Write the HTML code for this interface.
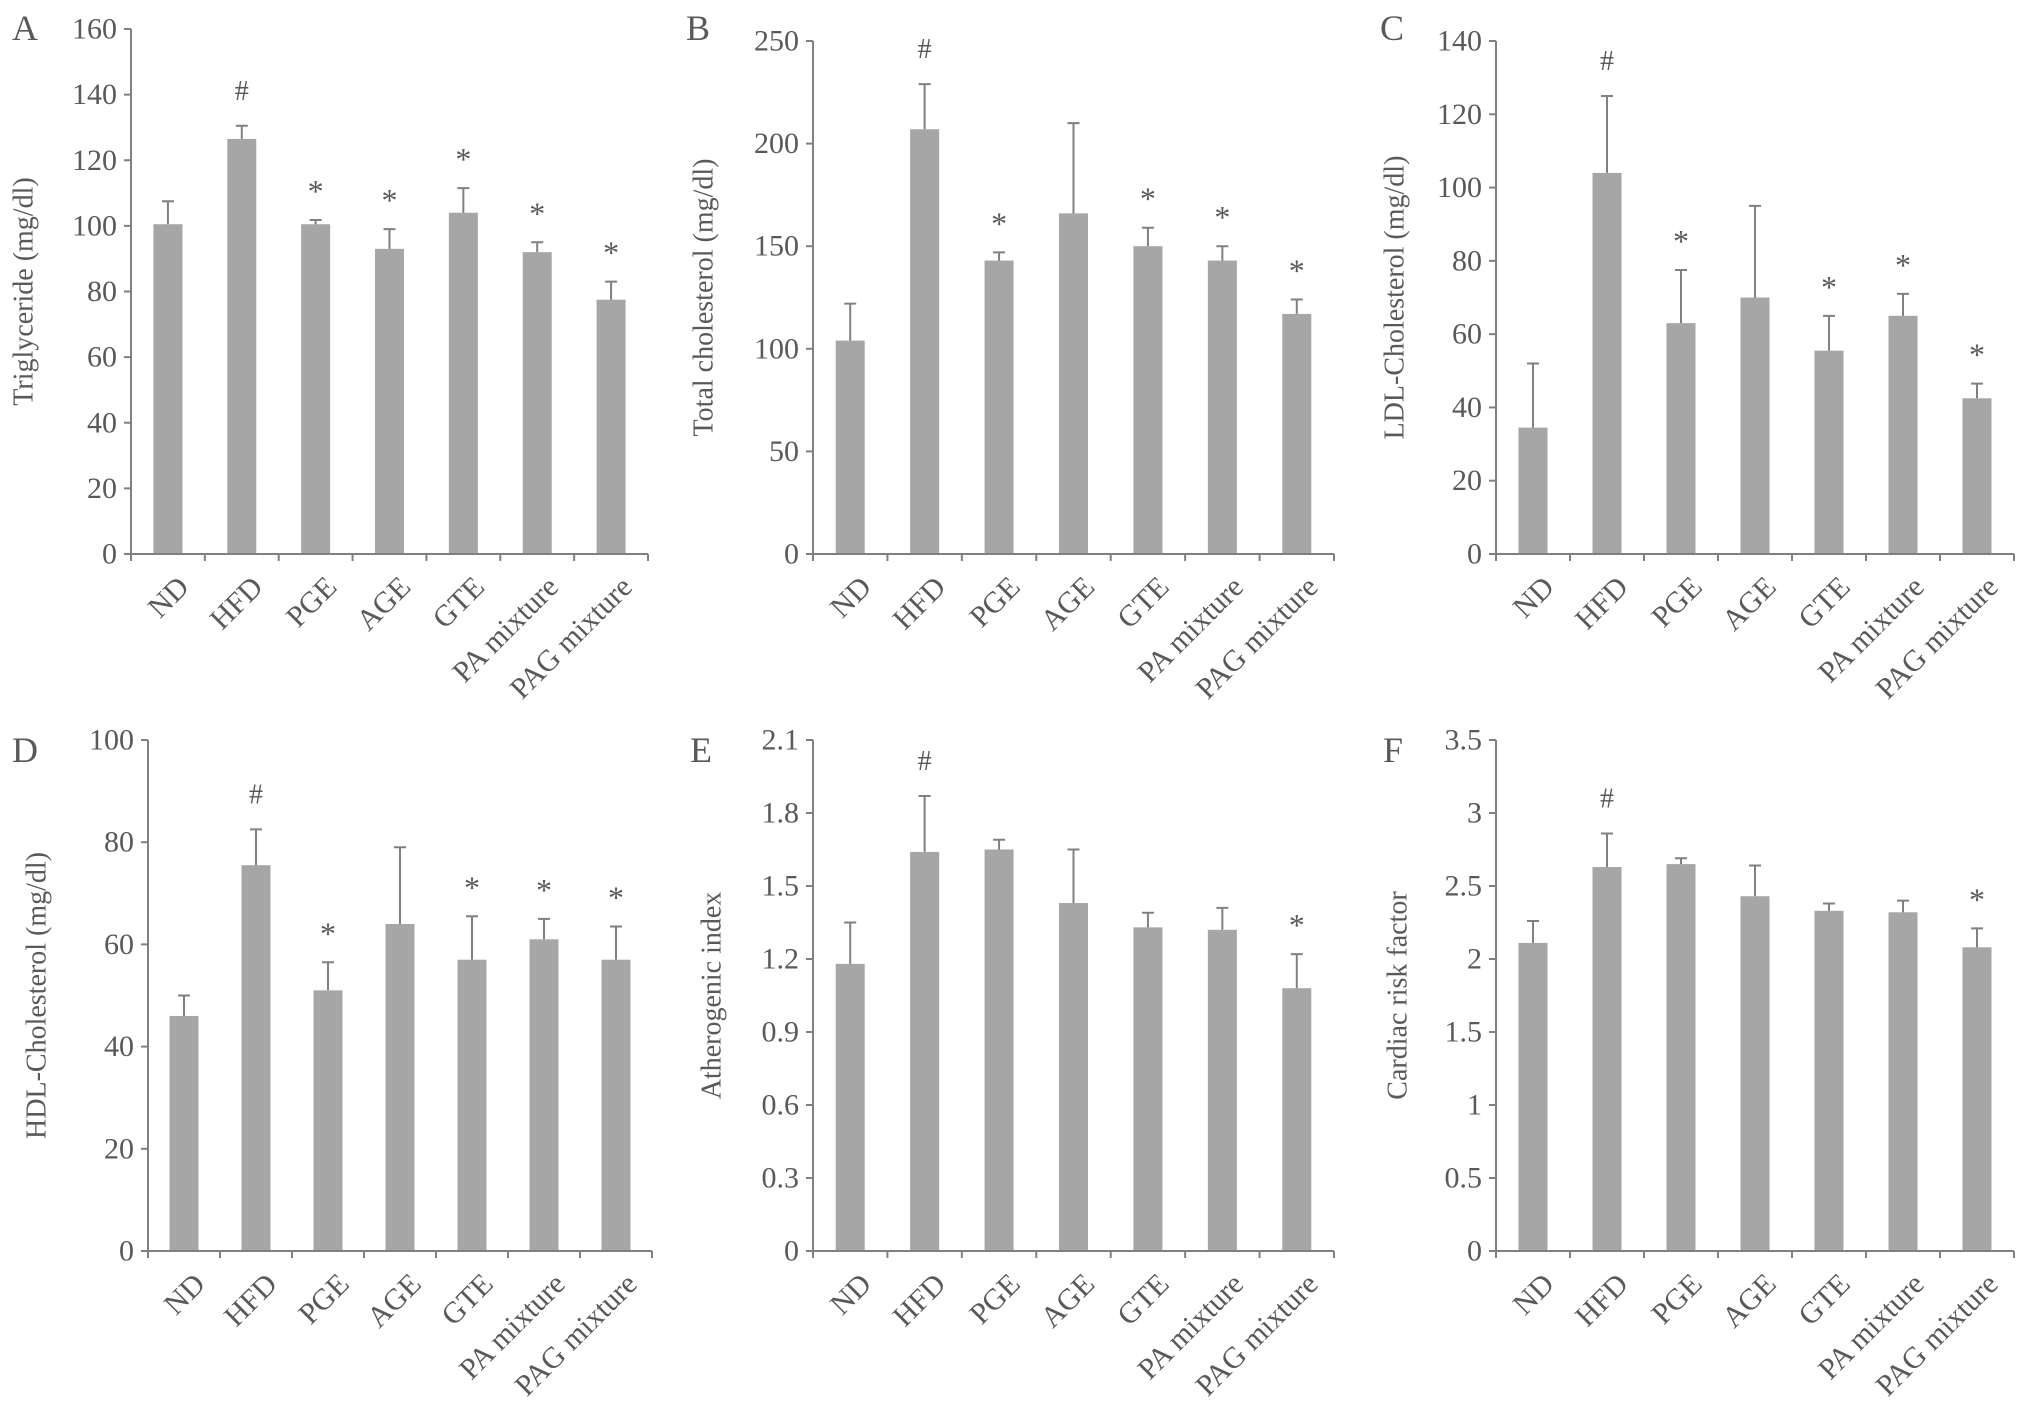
<!DOCTYPE html>
<html><head><meta charset="utf-8">
<style>
html,body{margin:0;padding:0;background:#fff;}
svg text{font-family:"Liberation Serif",serif;fill:#595959;}
</style></head>
<body>
<svg id="fig" width="2031" height="1411" viewBox="0 0 2031 1411" xmlns="http://www.w3.org/2000/svg"></svg>
<script>
const categories = ["ND","HFD","PGE","AGE","GTE","PA mixture","PAG mixture"];
const valsA = [100.5,126.5,100.5,93,104,92,77.5];
const errA  = [7,4,1.3,6,7.5,3,5.5];
const markA = ["","#","*","*","*","*","*"];
const valsB = [104,207,143,166,150,143,117];
const errB  = [18,22,4,44,9,7,7];
const markB = ["","#","*","","*","*","*"];
const valsC = [34.5,104,63,70,55.5,65,42.5];
const errC  = [17.5,21,14.5,25,9.5,6,4];
const markC = ["","#","*","","*","*","*"];
const valsD = [46,75.5,51,64,57,61,57];
const errD  = [4,7,5.5,15,8.5,4,6.5];
const markD = ["","#","*","","*","*","*"];
const valsE = [1.18,1.64,1.65,1.43,1.33,1.32,1.08];
const errE  = [0.17,0.23,0.04,0.22,0.06,0.09,0.14];
const markE = ["","#","","","","","*"];
const valsF = [2.11,2.63,2.65,2.43,2.33,2.32,2.08];
const errF  = [0.15,0.23,0.04,0.21,0.05,0.08,0.13];
const markF = ["","#","","","","","*"];
const ticksA = ["0","20","40","60","80","100","120","140","160"];
const ticksB = ["0","50","100","150","200","250"];
const ticksC = ["0","20","40","60","80","100","120","140"];
const ticksD = ["0","20","40","60","80","100"];
const ticksE = ["0","0.3","0.6","0.9","1.2","1.5","1.8","2.1"];
const ticksF = ["0","0.5","1","1.5","2","2.5","3","3.5"];

const NS="http://www.w3.org/2000/svg";
const svg=document.getElementById('fig');
function mk(tag,attrs,parent){const e=document.createElementNS(NS,tag);for(const k in attrs)e.setAttribute(k,attrs[k]);(parent||svg).appendChild(e);return e;}

const panels=[
 {id:"a",letter:"A",x0:131,x1:648,top:29,bot:554,ticks:ticksA,vals:valsA,err:errA,mark:markA,title:"Triglyceride (mg/dl)",tx:24,lx:12,ly:40},
 {id:"b",letter:"B",x0:813,x1:1334,top:41,bot:554,ticks:ticksB,vals:valsB,err:errB,mark:markB,title:"Total cholesterol (mg/dl)",tx:704,lx:686,ly:40},
 {id:"c",letter:"C",x0:1496,x1:2014,top:41,bot:554,ticks:ticksC,vals:valsC,err:errC,mark:markC,title:"LDL-Cholesterol (mg/dl)",tx:1395,lx:1380,ly:40},
 {id:"d",letter:"D",x0:148,x1:652,top:740,bot:1251,ticks:ticksD,vals:valsD,err:errD,mark:markD,title:"HDL-Cholesterol (mg/dl)",tx:37,lx:12,ly:762},
 {id:"e",letter:"E",x0:813,x1:1334,top:740,bot:1251,ticks:ticksE,vals:valsE,err:errE,mark:markE,title:"Atherogenic index",tx:712,lx:690,ly:762},
 {id:"f",letter:"F",x0:1496,x1:2014,top:740,bot:1251,ticks:ticksF,vals:valsF,err:errF,mark:markF,title:"Cardiac risk factor",tx:1398,lx:1383,ly:762}
];
const col="#808080";
panels.forEach(p=>{
  const g=mk('g',{});
  
  
  const tmax=parseFloat(p.ticks[p.ticks.length-1]);
  const yS=v=>p.bot-(v/tmax)*(p.bot-p.top);
  const n=categories.length, cw=(p.x1-p.x0)/n;
  const xC=i=>p.x0+cw*(i+0.5);
  const lt=mk('text',{x:p.lx,y:p.ly,'font-size':36},g);lt.textContent=p.letter;
  
  
  const yt=mk('text',{x:p.tx,y:(p.top+p.bot)/2,'font-size':28,'text-anchor':'middle','dominant-baseline':'central',transform:`rotate(-90 ${p.tx} ${(p.top+p.bot)/2})`},g);
  yt.textContent=p.title;
  
  
  p.vals.forEach((v,i)=>{
    const bw=29, y=yS(v);
    const r=mk('rect',{x:xC(i)-bw/2,y:y,width:bw,height:p.bot-y,fill:'#a6a6a6'},g);
    
    
    const yt2=yS(v+p.err[i]);
    const eb=mk('path',{d:`M${xC(i)} ${y}V${yt2}M${xC(i)-6} ${yt2}H${xC(i)+6}`,stroke:col,'stroke-width':2,fill:'none'},g);
    
    
    if(p.mark[i]){
      const m=mk('text',{x:xC(i),y:yt2-(p.mark[i]==='#'?26:18),'font-size':p.mark[i]==='#'?28:32,'text-anchor':'middle',fill:'#777'},g);
      m.textContent=p.mark[i];
      
      
    }
    const lx=xC(i)+8, ly=p.bot+20;
    const cl=mk('text',{x:lx,y:ly,'font-size':30,'text-anchor':'end','dominant-baseline':'hanging',transform:`rotate(-45 ${lx} ${ly})`},g);
    cl.textContent=categories[i];
    
    
  });
  const ax=mk('path',{d:`M${p.x0} ${p.top}V${p.bot}H${p.x1}`,stroke:col,'stroke-width':2,fill:'none'},g);
  
  
  for(let i=0;i<=n;i++){
    const x=p.x0+cw*i;
    mk('line',{x1:x,x2:x,y1:p.bot,y2:p.bot+7,stroke:col,'stroke-width':2},g);
  }
  p.ticks.forEach(t=>{
    const y=yS(parseFloat(t));
    mk('line',{x1:p.x0-7,x2:p.x0,y1:y,y2:y,stroke:col,'stroke-width':2},g);
    const tl=mk('text',{x:p.x0-14,y:y,'font-size':30,'text-anchor':'end','dominant-baseline':'central'},g);
    tl.textContent=t;
    
    
  });
});
</script>
</body></html>
